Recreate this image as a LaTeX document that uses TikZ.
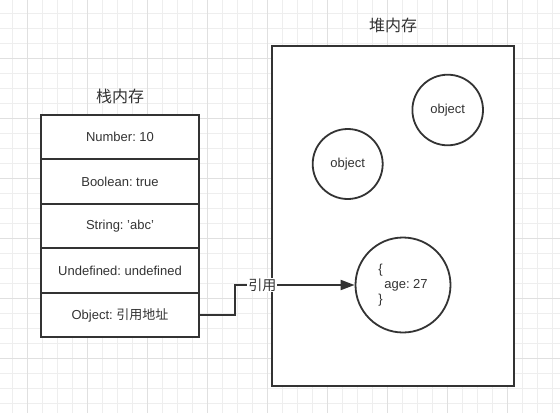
\documentclass[tikz,border=0pt]{standalone}
\usepackage{fontspec}
\setmainfont{Liberation Sans}
\newfontfamily\cjk{Noto Sans CJK SC}
\usetikzlibrary{arrows.meta}
\frenchspacing
\definecolor{ink}{HTML}{333333}
\definecolor{gridminor}{HTML}{EEEEEE}
\definecolor{gridmajor}{HTML}{E0E0E0}
\tikzset{
  gminor/.style={draw=gridminor, line width=1pt},
  gmajor/.style={draw=gridmajor, line width=1pt},
  cell/.style={draw=ink, fill=white, line width=2pt, minimum width=158.7pt, minimum height=44.7pt, inner sep=0pt, text=ink, font=\fontsize{13pt}{15pt}\selectfont},
  heapbox/.style={draw=ink, fill=white, line width=2pt, minimum width=242pt, minimum height=340.3pt, inner sep=0pt},
  obj/.style={draw=ink, fill=white, circle, line width=1.8pt, inner sep=0pt, text=ink, font=\fontsize{13pt}{15pt}\selectfont},
  title/.style={text=ink, font=\fontsize{16pt}{18pt}\selectfont\cjk, inner sep=0pt},
  conn/.style={draw=ink, line width=2pt, -{Triangle[length=14pt,width=10pt]}},
  lbl/.style={fill=white, text=ink, font=\fontsize{14pt}{16pt}\selectfont\cjk, inner sep=1pt}
}
\begin{document}
\begin{tikzpicture}[x=1pt,y=-1pt]
\useasboundingbox (0,0) rectangle (560,413);
\fill[white] (0,0) rectangle (560,413);
% grid
\foreach \i in {0,...,36} {
  \pgfmathsetmacro{\gx}{12.7+15*\i}
  \draw[gminor] (\gx,0) -- (\gx,413);
}
\foreach \i in {0,...,26} {
  \pgfmathsetmacro{\gy}{13.3+15*\i}
  \draw[gminor] (0,\gy) -- (560,\gy);
}
\foreach \i in {0,...,8} {
  \pgfmathsetmacro{\gx}{27.7+60*\i}
  \draw[gmajor] (\gx,0) -- (\gx,413);
}
\foreach \i in {0,...,6} {
  \pgfmathsetmacro{\gy}{58.3+60*\i}
  \draw[gmajor] (0,\gy) -- (560,\gy);
}
% titles
\node[title] (stacktitle) at (120,96) {栈内存};
\node[title] (heaptitle) at (393,25.7) {堆内存};
% heap
\node[heapbox] (heap) at (393,215.85) {};
\node[obj, minimum size=70.6pt] (o1) at (447.7,110) {object};
\node[obj, minimum size=70pt] (o2) at (347.7,164) {object};
\node[obj, minimum size=95pt, align=left] (o3) at (403,285) {\{\\[0pt]\hspace{6pt}age: 27\\[0pt]\}};
% stack
\node[cell] (s1) at (120,136.85) {Number: 10};
\node[cell] (s2) at (120,181.35) {Boolean: true};
\node[cell] (s3) at (120,225.85) {String: 'abc'};
\node[cell] (s4) at (120,270.35) {Undefined: undefined};
\node[cell] (s5) at (120,315) {Object: {\cjk 引用地址}};
% connector
\coordinate (bend) at (235,315);
\draw[conn] (s5.east) -- (bend) |- node[lbl, pos=0.614] {引用} (o3.west);
\end{tikzpicture}
\end{document}
